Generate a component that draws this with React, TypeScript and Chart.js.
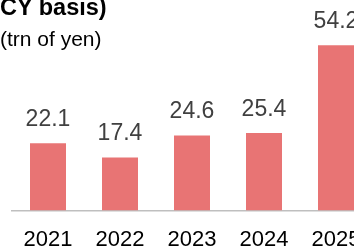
import React, { useEffect, useRef } from "react";
import { Chart, registerables } from "chart.js";

Chart.register(...registerables);

const categories = ["2021", "2022", "2023", "2024", "2025"];
const values = [22.1, 17.4, 24.6, 25.4, 54.2];
const valueLabels = ["22.1", "17.4", "24.6", "25.4", "54.2"];
const titleText = "CY basis)";
const unitText = "(trn of yen)";

const FONT = "'Liberation Sans', Arial, Helvetica, sans-serif";

const labelPlugin = {
  id: "valueLabels",
  afterDatasetsDraw(chart: any) {
    const ctx = chart.ctx;
    const meta = chart.getDatasetMeta(0);
    ctx.save();
    ctx.font = `23px ${FONT}`;
    ctx.fillStyle = "#404040";
    ctx.textAlign = "center";
    ctx.textBaseline = "alphabetic";
    meta.data.forEach((bar: any, i: number) => {
      ctx.fillText(valueLabels[i], bar.x, bar.y - 17.5);
    });
    ctx.restore();
  },
};

export default function App() {
  const ref = useRef<HTMLCanvasElement>(null);
  useEffect(() => {
    if (!ref.current) return;
    const chart = new Chart(ref.current, {
      type: "bar",
      data: {
        labels: categories,
        datasets: [
          {
            data: values,
            backgroundColor: "#E87474",
            borderWidth: 0,
            categoryPercentage: 1,
            barPercentage: 0.5,
          },
        ],
      },
      options: {
        animation: false,
        responsive: false,
        maintainAspectRatio: false,
        layout: { padding: { left: 12, right: 8, top: 0, bottom: 0 } },
        plugins: {
          legend: { display: false },
          tooltip: { enabled: false },
          title: { display: false },
        },
        scales: {
          x: {
            grid: { display: false },
            border: { display: true, color: "#BFBFBF", width: 1.5 },
            ticks: {
              color: "#000000",
              font: { family: FONT, size: 22 },
              padding: 8,
              maxRotation: 0,
              autoSkip: false,
            },
          },
          y: {
            display: false,
            min: 0,
            max: 69,
          },
        },
      },
      plugins: [labelPlugin],
    });
    return () => chart.destroy();
  }, []);

  return (
    <div
      style={{
        position: "fixed",
        left: 0,
        top: 0,
        width: 354,
        height: 249,
        overflow: "hidden",
        background: "#ffffff",
      }}
    >
      <canvas
        ref={ref}
        width={380}
        height={261}
        style={{ position: "absolute", left: 0, top: 0, width: 380, height: 261 }}
      />
      <div
        style={{
          position: "absolute",
          left: 0,
          top: -5,
          fontFamily: FONT,
          fontWeight: "bold",
          fontSize: 23.5,
          lineHeight: "24px",
          color: "#000",
          whiteSpace: "nowrap",
        }}
      >
        {titleText}
      </div>
      <div
        style={{
          position: "absolute",
          left: 0,
          top: 28,
          fontFamily: FONT,
          fontSize: 21,
          lineHeight: "21px",
          color: "#000",
          whiteSpace: "nowrap",
        }}
      >
        {unitText}
      </div>
    </div>
  );
}
